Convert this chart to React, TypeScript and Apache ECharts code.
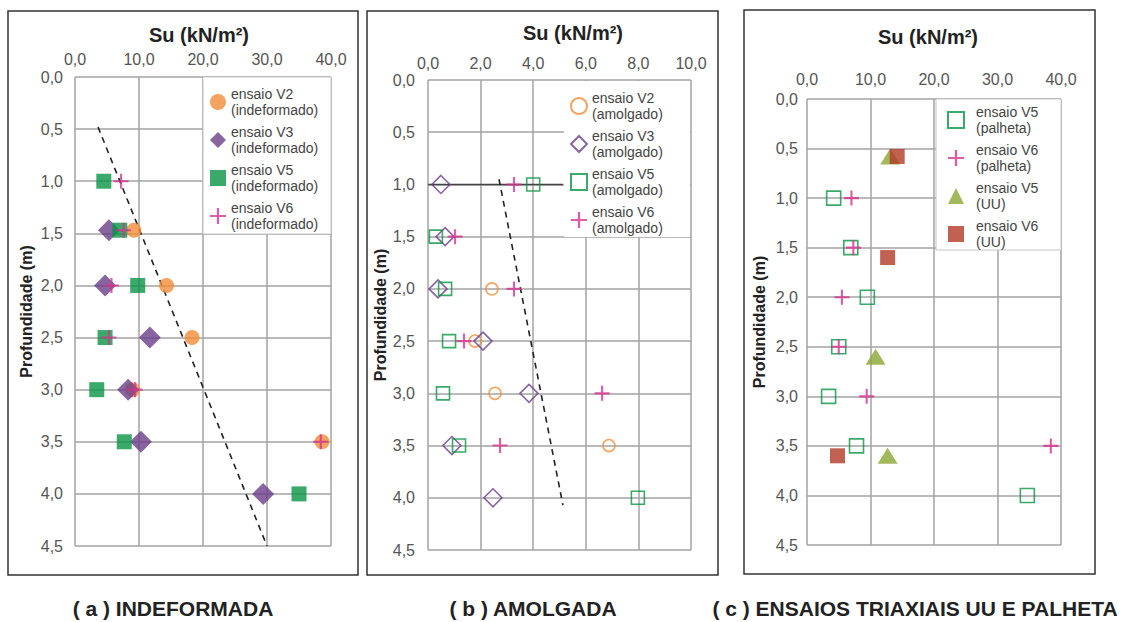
import React, { useEffect, useRef } from "react";
import * as echarts from "echarts";

// ---------- data ----------
// Panel (a) undisturbed: [Su kN/m², depth m]
const aV2 = [[9.2, 1.47], [14.3, 2.0], [18.3, 2.5], [9.0, 3.0], [38.6, 3.5]];
const aV3 = [[5.3, 1.47], [4.7, 2.0], [11.7, 2.5], [8.3, 3.0], [10.3, 3.5], [29.4, 4.0]];
const aV5 = [[4.5, 1.0], [7.0, 1.47], [9.8, 2.0], [4.7, 2.5], [3.4, 3.0], [7.7, 3.5], [35.0, 4.0]];
const aV6 = [[7.2, 1.0], [7.6, 1.47], [5.7, 2.0], [5.3, 2.5], [9.4, 3.0], [38.4, 3.5]];
const aTrend = [[3.6, 0.48], [30.0, 4.5]];

// Panel (b) remoulded
const bV2 = [[2.43, 2.0], [1.79, 2.5], [2.55, 3.0], [6.88, 3.5]];
const bV3 = [[0.49, 1.0], [0.65, 1.5], [0.38, 2.0], [2.09, 2.5], [3.84, 3.0], [0.91, 3.5], [2.47, 4.0]];
const bV5 = [[4.0, 1.0], [0.3, 1.5], [0.65, 2.0], [0.8, 2.5], [0.57, 3.0], [1.18, 3.5], [7.98, 4.0]];
const bV6 = [[3.27, 1.0], [1.03, 1.5], [3.27, 2.0], [1.37, 2.5], [6.62, 3.0], [2.74, 3.5]];
const bTrend = [[2.7, 0.95], [5.13, 4.07]];
const bRefLine = [[0, 1.0], [5.13, 1.0]];

// Panel (c) triaxial UU and vane
const cV5p = [[4.2, 1.0], [6.9, 1.5], [9.5, 2.0], [5.0, 2.5], [3.4, 3.0], [7.8, 3.5], [34.7, 4.0]];
const cV6p = [[7.0, 1.0], [7.3, 1.5], [5.5, 2.0], [5.0, 2.5], [9.4, 3.0], [38.4, 3.5]];
const cV5uu = [[13.1, 0.58], [10.8, 2.6], [12.7, 3.6]];
const cV6uu = [[14.2, 0.58], [12.7, 1.6], [4.8, 3.6]];

// names / labels
const xMaxes = [40, 10, 40];
const xIntervals = [10, 2, 10];
const depthMax = 4.5;
const depthInterval = 0.5;
const xTitle = "Su (kN/m²)";
const yTitle = "Profundidade (m)";
const captions = ["( a ) INDEFORMADA", "( b ) AMOLGADA", "( c ) ENSAIOS TRIAXIAIS UU E PALHETA"];
const namesA = ["ensaio V2\n(indeformado)", "ensaio V3\n(indeformado)", "ensaio V5\n(indeformado)", "ensaio V6\n(indeformado)"];
const namesB = ["ensaio V2\n(amolgado)", "ensaio V3\n(amolgado)", "ensaio V5\n(amolgado)", "ensaio V6\n(amolgado)"];
const namesC = ["ensaio V5\n(palheta)", "ensaio V6\n(palheta)", "ensaio V5\n(UU)", "ensaio V6\n(UU)"];

// ---------- styles ----------
const FONT = "'Liberation Sans', Arial, sans-serif";
const ORANGE = "#F28C38";
const PURPLE = "#6A3D8A";
const GREEN = "#0A9444";
const PINK = "#D6338E";
const OLIVE = "#8BA634";
const RED = "#B23A26";
const PLUS = "path://M4.3,0H5.7V4.3H10V5.7H5.7V10H4.3V5.7H0V4.3H4.3Z";

const fmt = (v: number) => v.toFixed(1).replace(".", ",");

const grids = [
  { left: 75, top: 77, width: 256, height: 469 },
  { left: 428, top: 80, width: 263, height: 470 },
  { left: 807, top: 99, width: 254, height: 446 },
];
const xLabelMargins = [10, 9, 12];
const yLabelMargins = [12, 13, 9];
const yNameGaps = [41, 34, 40];

function scat(name: string, data: number[][], idx: number, symbol: string, size: number | number[], color: string, open: boolean) {
  return {
    type: "scatter",
    name,
    data,
    xAxisIndex: idx,
    yAxisIndex: idx,
    symbol,
    symbolSize: size,
    itemStyle: open
      ? { color: "rgba(255,255,255,0)", borderColor: color, borderWidth: 1.6 }
      : { color },
    z: 2,
  };
}

function lineS(data: number[][], idx: number, dashed: boolean) {
  return {
    type: "line",
    data,
    xAxisIndex: idx,
    yAxisIndex: idx,
    symbol: "none",
    silent: true,
    lineStyle: { color: dashed ? "#222" : "#444", width: 1.6, type: dashed ? [6, 5] : "solid" },
    z: 2,
  };
}

function legendFor(names: string[], left: number, top: number, textPad: number, size: number) {
  return {
    orient: "vertical",
    left,
    top,
    padding: 0,
    itemWidth: size,
    itemHeight: size,
    itemGap: 6,
    selectedMode: false,
    data: names,
    textStyle: { fontFamily: FONT, fontSize: 14, lineHeight: 16, color: "#444", padding: [0, 0, 0, textPad] },
  };
}

export default function App() {
  const ref = useRef<HTMLDivElement>(null);
  useEffect(() => {
    if (!ref.current) return;
    const chart = echarts.init(ref.current, null, { renderer: "svg" });
    const option: any = {
      animation: false,
      textStyle: { fontFamily: FONT },
      grid: grids,
      xAxis: grids.map((_, i) => ({
        gridIndex: i,
        type: "value",
        position: "top",
        min: 0,
        max: xMaxes[i],
        interval: xIntervals[i],
        axisLine: { show: false },
        axisTick: { show: false },
        axisLabel: { formatter: fmt, color: "#555", fontSize: 16, margin: xLabelMargins[i], fontFamily: FONT },
        splitLine: { show: true, lineStyle: { color: "#a3a3a3", width: 1.5 } },
      })),
      yAxis: grids.map((_, i) => ({
        gridIndex: i,
        type: "value",
        inverse: true,
        min: 0,
        max: depthMax,
        interval: depthInterval,
        name: yTitle,
        nameLocation: "middle",
        nameRotate: 90,
        nameGap: yNameGaps[i],
        nameTextStyle: { fontWeight: "bold", fontSize: 16, color: "#222", fontFamily: FONT },
        axisLine: { show: false },
        axisTick: { show: false },
        axisLabel: { formatter: fmt, color: "#555", fontSize: 16, margin: yLabelMargins[i], fontFamily: FONT },
        splitLine: { show: true, lineStyle: { color: "#a3a3a3", width: 1.5 } },
      })),
      legend: [
        legendFor(namesA, 210, 86, 0, 16),
        legendFor(namesB, 570, 90, 0, 16),
        legendFor(namesC, 947, 104, 7, 16),
      ],
      series: [
        lineS(aTrend, 0, true),
        scat(namesA[0], aV2, 0, "circle", 15, ORANGE, false),
        scat(namesA[1], aV3, 0, "diamond", 22, PURPLE, false),
        scat(namesA[2], aV5, 0, "rect", 15, GREEN, false),
        scat(namesA[3], aV6, 0, PLUS, 15, PINK, false),

        lineS(bRefLine, 1, false),
        lineS(bTrend, 1, true),
        scat(namesB[0], bV2, 1, "circle", 12, ORANGE, true),
        scat(namesB[1], bV3, 1, "diamond", 18, PURPLE, true),
        scat(namesB[2], bV5, 1, "rect", 13, GREEN, true),
        scat(namesB[3], bV6, 1, PLUS, 15, PINK, false),

        scat(namesC[0], cV5p, 2, "rect", 14, GREEN, true),
        scat(namesC[1], cV6p, 2, PLUS, 15, PINK, false),
        scat(namesC[2], cV5uu, 2, "triangle", [20, 16], OLIVE, false),
        scat(namesC[3], cV6uu, 2, "rect", 15, RED, false),
      ],
      graphic: {
        elements: [
          { type: "rect", z: 3, shape: { x: 203, y: 77, width: 128, height: 157 }, style: { fill: "#fff", stroke: "#c4c4c4", lineWidth: 1 } },
          { type: "rect", z: 3, shape: { x: 564, y: 81, width: 126, height: 156 }, style: { fill: "#fff" } },
          { type: "rect", z: 3, shape: { x: 936, y: 99, width: 125, height: 151 }, style: { fill: "#fff", stroke: "#c4c4c4", lineWidth: 1 } },
          { type: "rect", shape: { x: 8, y: 11, width: 350, height: 564 }, style: { fill: "none", stroke: "#333", lineWidth: 1.5 } },
          { type: "rect", shape: { x: 367, y: 11, width: 351, height: 564 }, style: { fill: "none", stroke: "#333", lineWidth: 1.5 } },
          { type: "rect", shape: { x: 744, y: 10, width: 351, height: 564 }, style: { fill: "none", stroke: "#333", lineWidth: 1.5 } },
          { type: "text", x: 199, y: 35, style: { text: xTitle, font: `bold 20px ${FONT}`, fill: "#222", align: "center", verticalAlign: "middle" } },
          { type: "text", x: 573, y: 33, style: { text: xTitle, font: `bold 20px ${FONT}`, fill: "#222", align: "center", verticalAlign: "middle" } },
          { type: "text", x: 928, y: 37, style: { text: xTitle, font: `bold 20px ${FONT}`, fill: "#222", align: "center", verticalAlign: "middle" } },
          { type: "text", x: 173, y: 608, style: { text: captions[0], font: `bold 21px ${FONT}`, fill: "#222", align: "center", verticalAlign: "middle" } },
          { type: "text", x: 533, y: 608, style: { text: captions[1], font: `bold 21px ${FONT}`, fill: "#222", align: "center", verticalAlign: "middle" } },
          { type: "text", x: 915, y: 608, style: { text: captions[2], font: `bold 21px ${FONT}`, fill: "#222", align: "center", verticalAlign: "middle" } },
        ],
      },
    };
    chart.setOption(option);
    return () => chart.dispose();
  }, []);
  return (
    <div
      ref={ref}
      style={{ position: "absolute", left: 0, top: 0, width: 1125, height: 622, background: "#fff" }}
    />
  );
}
